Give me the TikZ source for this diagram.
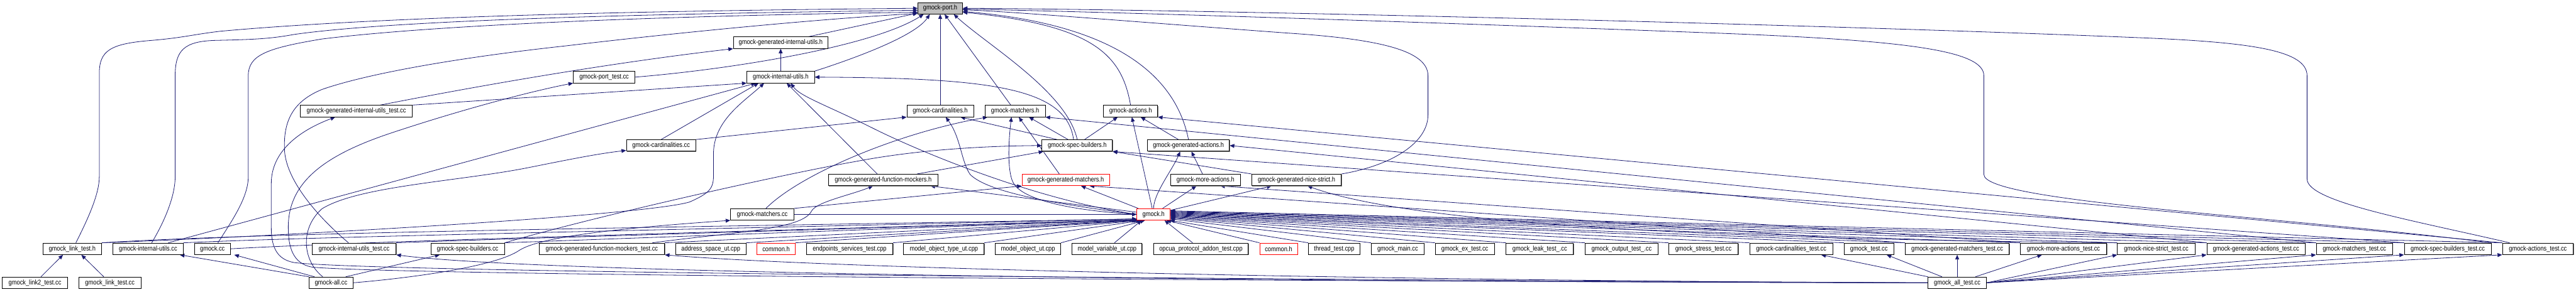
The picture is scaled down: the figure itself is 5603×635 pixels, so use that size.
\documentclass[tikz,border=0pt]{standalone}
\usepackage{fontspec}
\setmainfont{Liberation Sans}[FakeStretch=0.86]
\usetikzlibrary{arrows.meta,shadows}
\definecolor{mblue}{HTML}{191970}
\newcommand\nfont{\fontsize{7.4}{8}\selectfont}
\pgfdeclarelayer{bg}
\pgfsetlayers{bg,main}
\tikzset{
  nb/.style={draw=black, fill=white, line width=0.6pt, minimum height=12.5pt, inner sep=0pt, font=\nfont,
     drop shadow={shadow xshift=0.6pt, shadow yshift=-0.6pt, fill=black!50, opacity=1}},
  nr/.style={draw=red, fill=white, line width=0.6pt, minimum height=12.5pt, inner sep=0pt, font=\nfont},
  ng/.style={nb, fill=black!25},
  dep/.style={draw=mblue, line width=0.55pt, -{Triangle[length=5pt,width=4.2pt]}}
}
\begin{document}
\begin{tikzpicture}[x=0.5pt,y=-0.5pt]
\begin{pgfonlayer}{bg}
\fill[white] (0,0) rectangle (5603,635);
\end{pgfonlayer}
\useasboundingbox (0,0) rectangle (5603,635);
% row 0-6
\node[ng, minimum width=48.5pt] (P) at (2045,18) {gmock-port.h};
\node[nb, minimum width=103pt] (GIU) at (1698,93) {gmock-generated-internal-utils.h};
\node[nb, minimum width=67pt] (PT) at (1314,168) {gmock-port\_test.cc};
\node[nb, minimum width=73.5pt] (IU) at (1698,168) {gmock-internal-utils.h};
\node[nb, minimum width=121.5pt] (GIUT) at (775,242) {gmock-generated-internal-utils\_test.cc};
\node[nb, minimum width=72.5pt] (CH) at (2045,242) {gmock-cardinalities.h};
\node[nb, minimum width=65.5pt] (MH) at (2208,242) {gmock-matchers.h};
\node[nb, minimum width=59pt] (AH) at (2459,242) {gmock-actions.h};
\node[nb, minimum width=75.5pt] (CC) at (1438,317) {gmock-cardinalities.cc};
\node[nb, minimum width=76.5pt] (SB) at (2343,317) {gmock-spec-builders.h};
\node[nb, minimum width=89pt] (GAH) at (2585,317) {gmock-generated-actions.h};
\node[nb, minimum width=119pt] (FMH) at (1921,392) {gmock-generated-function-mockers.h};
\node[nr, minimum width=95pt] (GMH) at (2318,392) {gmock-generated-matchers.h};
\node[nb, minimum width=75.5pt] (GMA) at (2622,392) {gmock-more-actions.h};
\node[nb, minimum width=97.5pt] (GNS) at (2820,392) {gmock-generated-nice-strict.h};
\node[nb, minimum width=69pt] (MC) at (1658,467) {gmock-matchers.cc};
\node[nr, minimum width=36pt] (G) at (2509,467) {gmock.h};
% row 7
\node[nb, minimum width=64pt] (LTH) at (157,542) {gmock\_link\_test.h};
\node[nb, minimum width=76.5pt] (IUcc) at (322,542) {gmock-internal-utils.cc};
\node[nb, minimum width=39pt] (GCC) at (462,542) {gmock.cc};
\node[nb, minimum width=91.5pt] (IUT) at (770,542) {gmock-internal-utils\_test.cc};
\node[nb, minimum width=80pt] (SBcc) at (1017,542) {gmock-spec-builders.cc};
\node[nb, minimum width=136.5pt] (FMT) at (1309,542) {gmock-generated-function-mockers\_test.cc};
\node[nb, minimum width=76.5pt] (ASU) at (1546,542) {address\_space\_ut.cpp};
\node[nr, minimum width=41.5pt] (COM1) at (1688,542) {common.h};
\node[nb, minimum width=94pt] (EST) at (1848,542) {endpoints\_services\_test.cpp};
\node[nb, minimum width=87.5pt] (MOT) at (2053,542) {model\_object\_type\_ut.cpp};
\node[nb, minimum width=71pt] (MO) at (2236,542) {model\_object\_ut.cpp};
\node[nb, minimum width=76pt] (MV) at (2408,542) {model\_variable\_ut.cpp};
\node[nb, minimum width=103pt] (OPA) at (2612,542) {opcua\_protocol\_addon\_test.cpp};
\node[nr, minimum width=41pt] (COM2) at (2781,542) {common.h};
\node[nb, minimum width=56pt] (TT) at (2902,542) {thread\_test.cpp};
\node[nb, minimum width=57.5pt] (GM) at (3040,542) {gmock\_main.cc};
\node[nb, minimum width=64.5pt] (EX) at (3186,542) {gmock\_ex\_test.cc};
\node[nb, minimum width=73pt] (LK) at (3349,542) {gmock\_leak\_test\_.cc};
\node[nb, minimum width=79.5pt] (OUT) at (3527,542) {gmock\_output\_test\_.cc};
\node[nb, minimum width=75.5pt] (ST) at (3705,542) {gmock\_stress\_test.cc};
\node[nb, minimum width=90.5pt] (CT) at (3896,542) {gmock-cardinalities\_test.cc};
\node[nb, minimum width=54pt] (GT) at (4065,542) {gmock\_test.cc};
\node[nb, minimum width=113pt] (GMT) at (4257,542) {gmock-generated-matchers\_test.cc};
\node[nb, minimum width=94pt] (MAT) at (4488,542) {gmock-more-actions\_test.cc};
\node[nb, minimum width=84.5pt] (NST) at (4690,542) {gmock-nice-strict\_test.cc};
\node[nb, minimum width=107pt] (GAT) at (4907,542) {gmock-generated-actions\_test.cc};
\node[nb, minimum width=83pt] (MT) at (5121,542) {gmock-matchers\_test.cc};
\node[nb, minimum width=94.5pt] (SBT) at (5324,542) {gmock-spec-builders\_test.cc};
\node[nb, minimum width=77pt] (AT) at (5520,542) {gmock-actions\_test.cc};
% row 8
\node[nb, minimum width=71pt] (L2) at (76,616) {gmock\_link2\_test.cc};
\node[nb, minimum width=67.5pt] (LT) at (239,616) {gmock\_link\_test.cc};
\node[nb, minimum width=47.5pt] (ALL) at (720,616) {gmock-all.cc};
\node[nb, minimum width=63.5pt] (ALLT) at (4257,616) {gmock\_all\_test.cc};

\begin{pgfonlayer}{bg}
% ---- into gmock-port.h
\draw[dep] ([xshift=4pt]LTH.north) .. controls (195,470) and (216,420) .. (216,385) -- (216,160) .. controls (216,110) and (240,95) .. (330,88) .. controls (400,82) and (420,75) .. (480,68) .. controls (900,30) and (1600,22) .. (P.west);
\draw[dep] ([xshift=4pt]IUcc.north) .. controls (365,470) and (381,420) .. (381,385) -- (381,165) .. controls (381,110) and (400,90) .. (468,88) .. controls (560,86) and (590,84) .. (640,75) .. controls (900,38) and (1600,28) .. (P.185);
\draw[dep] ([xshift=6pt]GCC.north) .. controls (505,480) and (540,430) .. (540,385) -- (540,165) .. controls (540,120) and (580,105) .. (700,85) .. controls (1000,48) and (1600,32) .. (P.190);
\draw[dep] ([xshift=-6pt]IUT.north) .. controls (700,480) and (625,400) .. (619,330) .. controls (615,260) and (640,220) .. (700,195) .. controls (800,160) and (1000,125) .. (1230,100) .. controls (1500,68) and (1800,40) .. (P.193);
\draw[dep] (GIU) -- (P);
\draw[dep] (PT.east) .. controls (1600,150) and (1900,100) .. (P.200);
\draw[dep] (IU.north east) .. controls (1850,130) and (1990,80) .. (P.210);
\draw[dep] (CH) -- (P);
\draw[dep] (MH) -- (P);
\draw[dep] (SB.north) .. controls (2320,200) and (2150,100) .. (P.336);
\draw[dep] (AH.north) .. controls (2440,120) and (2380,55) .. (P.350);
\draw[dep] (GAH.north) .. controls (2560,180) and (2450,55) .. (P.352);
\draw[dep] (GNS.north east) .. controls (3030,360) and (3106,310) .. (3106,250) -- (3106,165) .. controls (3106,110) and (3000,85) .. (2800,72) .. controls (2500,50) and (2200,25) .. (P.356);
\draw[dep] (SBT.north east) .. controls (4950,470) and (4315,440) .. (4315,380) -- (4315,165) .. controls (4315,110) and (4150,88) .. (3730,72) .. controls (3200,52) and (2500,28) .. (P.358);
\draw[dep] ([xshift=8pt]AT.north west) .. controls (5250,480) and (5018,440) .. (5018,390) -- (5018,165) .. controls (5018,110) and (4900,92) .. (4650,82) .. controls (4000,55) and (2700,22) .. (P.east);
% ---- internal utils
\draw[dep] (IU) -- (GIU);
\draw[dep] ([xshift=26pt]GIUT.north) .. controls (1000,195) and (1300,140) .. (GIU.south west);
\draw[dep] (GIUT.north east) -- (IU.south west);
\draw[dep] (CC.north east) -- (CH.south west);
\draw[dep] (CC.north) -- ([xshift=-24pt]IU.south);
\draw[dep] ([xshift=22pt]IUcc.north) -- ([xshift=-27pt]IU.south);
\draw[dep] (LTH.north east) .. controls (600,515) and (1400,470) .. (1500,440) .. controls (1545,420) and (1552,410) .. (1552,380) -- (1552,330) .. controls (1555,260) and (1620,220) .. ([xshift=-18pt]IU.south);
% ---- spec builders etc
\draw[dep] ([xshift=-4pt]SB.north) .. controls (2320,190) and (2150,170) .. (IU.east);
\draw[dep] ([xshift=-22pt]SB.north) -- ([xshift=22pt]CH.south);
\draw[dep] ([xshift=-10pt]SB.north) -- ([xshift=15pt]MH.south);
\draw[dep] ([xshift=8pt]SB.north) -- ([xshift=-14pt]AH.south);
\draw[dep] (GAH) -- (AH);
\draw[dep] (GMA) -- (GAH);
\draw[dep] (GNS.north west) -- (SB.south east);
\draw[dep] ([xshift=-7pt]GMH.north) -- ([xshift=4pt]MH.south);
\draw[dep] (FMH) -- (SB);
\draw[dep] (FMH) -- (IU);
\draw[dep] ([xshift=4pt]MC.north) .. controls (1740,380) and (1950,290) .. ([xshift=3pt]MH.south west);
\draw[dep] (MC.north east) -- (GMH.south west);
\draw[dep] (MC) -- (G);
\draw[dep] (SBcc.north east) .. controls (1300,470) and (1700,380) .. (1860,352) .. controls (2000,325) and (2150,318) .. (SB.west);
\draw[dep] ([xshift=55pt]FMT.north) .. controls (1600,505) and (1745,500) .. (1765,460) .. controls (1775,440) and (1850,425) .. ([xshift=-11pt]FMH.south);
% ---- gmock.h outgoing
\draw[dep] (G.west) .. controls (2350,460) and (2230,440) .. (2205,400) .. controls (2192,380) and (2192,320) .. ([xshift=-4pt]MH.south);
\draw[dep] (G.west) .. controls (2300,445) and (2150,420) .. (2110,380) .. controls (2090,350) and (2090,300) .. ([xshift=6pt]CH.south);
\draw[dep] (G.west) .. controls (2250,435) and (2000,330) .. (1900,280) .. controls (1800,230) and (1740,210) .. ([xshift=11pt]IU.south);
\draw[dep] (G) -- (AH);
\draw[dep] (G.north) .. controls (2510,420) and (2550,370) .. ([xshift=-9pt]GAH.south);
\draw[dep] (G) -- (GMA);
\draw[dep] (G) -- (GNS);
\draw[dep] (G) -- (GMH);
\draw[dep] (G) -- (FMH);
% ---- into gmock.h from left
\draw[dep] (LTH.north east) .. controls (600,505) and (1500,495) .. (G.195);
\draw[dep] (IUcc.north east) .. controls (700,515) and (1500,500) .. (G.195);
\draw[dep] (GCC.east) .. controls (800,525) and (1600,505) .. (G.197);
\draw[dep] (IUT.north east) .. controls (1100,520) and (1800,500) .. (G.198);
\draw[dep] (SBcc.north east) -- (G.198);
\draw[dep] (FMT.north east) -- (G.199);
\draw[dep] (ASU.north east) -- (G.200);
\draw[dep] (COM1.north east) -- (G.202);
\draw[dep] (EST.north east) -- (G.205);
\draw[dep] (MOT.north east) -- (G.210);
\draw[dep] (MO.north east) -- (G.215);
\draw[dep] ([xshift=8pt]MV.north) -- ([xshift=-13pt]G.south);
\draw[dep] ([xshift=-9pt]OPA.north) -- ([xshift=12pt]G.south);
% ---- into gmock.h from right
\draw[dep] (COM2.north west) -- (G.335);
\draw[dep] (TT.north west) -- (G.340);
\draw[dep] (GM.north west) -- (G.345);
\draw[dep] (EX.north west) -- (G.348);
\draw[dep] (LK.north west) -- (G.350);
\draw[dep] (OUT.north west) -- (G.352);
\draw[dep] (ST.north west) -- (G.354);
\draw[dep] (CT.north west) -- (G.356);
\draw[dep] (GT.north west) -- (G.358);
\draw[dep] (GMT.north west) -- (G.0);
\draw[dep] (MAT.north west) -- (G.2);
\draw[dep] (NST.north west) -- (G.4);
\draw[dep] (GAT.north west) -- (G.6);
\draw[dep] (MT.north west) -- (G.8);
\draw[dep] (SBT.north west) -- (G.10);
\draw[dep] (AT.north west) -- (G.12);
% ---- tests to headers
\draw[dep] (GMT.north west) -- ([xshift=26pt]GMH.south);
\draw[dep] (MAT.north west) -- ([xshift=16pt]GMA.south);
\draw[dep] (NST.north west) .. controls (3600,520) and (3050,480) .. ([xshift=12pt]GNS.south);
\draw[dep] (GAT.north west) -- (GAH.east);
\draw[dep] (MT.north west) -- (MH.south east);
\draw[dep] (SBT.north west) -- (SB.south east);
\draw[dep] (AT.north west) -- (AH.south east);
% ---- gmock_all_test.cc
\draw[dep] (ALLT) -- ([xshift=-13pt]CT.south east);
\draw[dep] (ALLT) -- ([xshift=-8pt]GT.south east);
\draw[dep] (ALLT) -- (GMT);
\draw[dep] (ALLT) -- ([xshift=24pt]MAT.south west);
\draw[dep] (ALLT.east) -- (NST.south west);
\draw[dep] (ALLT.east) -- (GAT.south west);
\draw[dep] (ALLT.east) -- (MT.south west);
\draw[dep] (ALLT.east) -- (SBT.south west);
\draw[dep] (ALLT.east) -- (AT.south west);
\draw[dep] (ALLT.west) .. controls (3000,612) and (1800,585) .. (FMT.south east);
\draw[dep] (ALLT.west) .. controls (3000,615) and (1200,600) .. (IUT.south east);
\draw[dep] (ALLT.west) .. controls (2500,608) and (800,592) .. (640,572) .. controls (600,565) and (590,535) .. (590,495) -- (590,400) .. controls (590,330) and (650,285) .. ([xshift=-23pt]GIUT.south);
\draw[dep] (ALLT.west) .. controls (2500,612) and (850,598) .. (680,582) .. controls (635,575) and (627,535) .. (627,495) .. controls (627,400) and (700,340) .. (850,290) .. controls (1000,240) and (1150,200) .. (PT.south west);
% ---- gmock-all.cc
\draw[dep] (ALL.north west) -- ([xshift=-4pt]IUcc.south east);
\draw[dep] ([xshift=-18pt]ALL.north) -- ([xshift=4pt]GCC.south east);
\draw[dep] ([xshift=16pt]ALL.north) -- ([xshift=10pt]SBcc.south west);
\draw[dep] ([xshift=-9pt]ALL.north) .. controls (660,570) and (650,500) .. (700,455) .. controls (780,405) and (1000,395) .. (1150,365) .. controls (1250,345) and (1300,335) .. (CC.188);
\draw[dep] (ALL.east) .. controls (900,605) and (1080,580) .. (1130,545) .. controls (1170,520) and (1300,500) .. (MC.south west);
% ---- link tests
\draw[dep] (L2) -- ([xshift=-10pt]LTH.south);
\draw[dep] (LT) -- ([xshift=10pt]LTH.south);
\end{pgfonlayer}
\end{tikzpicture}
\end{document}
